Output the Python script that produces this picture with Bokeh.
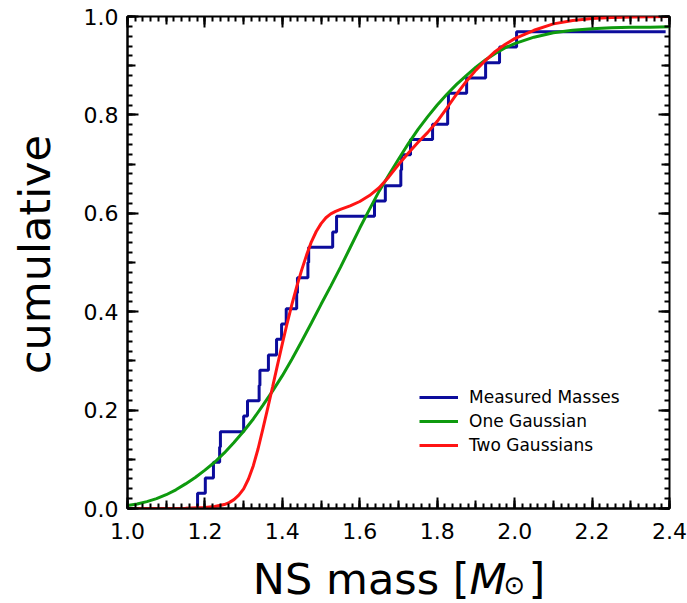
import math
import numpy as np
from bokeh.plotting import figure
from bokeh.layouts import row, column
from bokeh.models import (Range1d, LinearAxis, FixedTicker, Legend, LegendItem,
                          PrintfTickFormatter)
from bokeh.core.properties import value
from bokeh.embed import file_html
from bokeh.resources import INLINE

# ---- data ----
# measured NS masses (step positions of the empirical cumulative curve)
masses = [1.181, 1.201, 1.222, 1.238, 1.240, 1.300, 1.310, 1.340, 1.342, 1.364,
          1.385, 1.398, 1.410, 1.437, 1.439, 1.466, 1.468, 1.530, 1.540, 1.638,
          1.666, 1.706, 1.708, 1.731, 1.788, 1.827, 1.829, 1.876, 1.925, 1.961, 2.005]
cumulative = [0.031, 0.062, 0.094, 0.125, 0.156, 0.188, 0.219, 0.250, 0.281, 0.312,
              0.344, 0.375, 0.406, 0.438, 0.469, 0.500, 0.531, 0.562, 0.594, 0.625,
              0.656, 0.688, 0.719, 0.750, 0.781, 0.812, 0.844, 0.875, 0.906, 0.938, 0.969]
step_start = 1.0
step_end = 2.39

one_gauss_x = [1.00, 1.025, 1.05, 1.075, 1.10, 1.125, 1.15, 1.175, 1.20, 1.225, 1.25, 1.275,
               1.30, 1.325, 1.35, 1.375, 1.40, 1.425, 1.45, 1.475, 1.50, 1.525, 1.55, 1.575,
               1.60, 1.625, 1.65, 1.675, 1.70, 1.725, 1.75, 1.775, 1.80, 1.825, 1.85, 1.875,
               1.90, 1.925, 1.95, 1.975, 2.00, 2.05, 2.10, 2.15, 2.20, 2.25, 2.30, 2.35, 2.40]
one_gauss_y = [0.006, 0.009, 0.014, 0.020, 0.028, 0.038, 0.050, 0.063, 0.078, 0.094, 0.113, 0.134,
               0.157, 0.182, 0.210, 0.239, 0.270, 0.304, 0.340, 0.377, 0.415, 0.452, 0.490, 0.530,
               0.570, 0.608, 0.645, 0.678, 0.710, 0.741, 0.770, 0.796, 0.820, 0.842, 0.862, 0.880,
               0.897, 0.912, 0.925, 0.936, 0.945, 0.958, 0.967, 0.972, 0.975, 0.977, 0.978, 0.978, 0.979]

two_gauss_x = [1.00, 1.15, 1.20, 1.225, 1.25, 1.2625, 1.275, 1.2875, 1.30, 1.3125, 1.325, 1.3375,
               1.35, 1.3625, 1.375, 1.3875, 1.40, 1.4125, 1.425, 1.4375, 1.45, 1.4625, 1.475, 1.4875,
               1.50, 1.5125, 1.525, 1.5375, 1.55, 1.575, 1.60, 1.625, 1.65, 1.675, 1.70, 1.725,
               1.75, 1.775, 1.80, 1.825, 1.85, 1.875, 1.90, 1.925, 1.95, 1.975, 2.00, 2.05,
               2.10, 2.15, 2.20, 2.25, 2.30, 2.40]
two_gauss_y = [0.000, 0.0005, 0.002, 0.004, 0.008, 0.012, 0.018, 0.027, 0.040, 0.060, 0.087, 0.122,
               0.163, 0.205, 0.248, 0.292, 0.335, 0.377, 0.416, 0.452, 0.485, 0.515, 0.542, 0.563,
               0.579, 0.591, 0.599, 0.604, 0.608, 0.615, 0.624, 0.636, 0.652, 0.674, 0.699, 0.722,
               0.744, 0.764, 0.787, 0.814, 0.842, 0.868, 0.891, 0.911, 0.929, 0.943, 0.955, 0.972,
               0.985, 0.992, 0.996, 0.998, 0.999, 1.000]

x_major_ticks = [1.0, 1.2, 1.4, 1.6, 1.8, 2.0, 2.2, 2.4]
y_major_ticks = [0.0, 0.2, 0.4, 0.6, 0.8, 1.0]
x_medium_ticks = [round(v, 2) for v in np.arange(1.0, 2.401, 0.1)]
y_medium_ticks = [round(v, 2) for v in np.arange(0.0, 1.001, 0.1)]
x_minor_ticks = [round(v, 2) for v in np.arange(1.0, 2.401, 0.02)]
y_minor_ticks = [round(v, 2) for v in np.arange(0.0, 1.001, 0.02)]

labels = ["Measured Masses", "One Gaussian", "Two Gaussians"]
colors = ["#0c0c9c", "#0e9a0e", "#ff1414"]

FONT = "DejaVu Sans"

# ---------------- main plot ----------------
p = figure(width=607, height=553, output_backend="svg", toolbar_location=None,
           x_range=Range1d(1.0, 2.4), y_range=Range1d(0.0, 1.0),
           x_axis_location=None, y_axis_location=None,
           min_border_left=46, min_border_right=18, min_border_top=16, min_border_bottom=45)
p.xgrid.visible = False
p.ygrid.visible = False
p.outline_line_color = "black"
p.outline_line_width = 2
p.background_fill_color = "white"
p.border_fill_color = "white"


def tick_only_axis(ticks, length):
    # an axis that only draws inward ticks (no labels, no line, no size)
    return LinearAxis(ticker=FixedTicker(ticks=[], minor_ticks=ticks),
                      axis_line_color=None, major_tick_line_color=None,
                      minor_tick_in=length, minor_tick_out=0, minor_tick_line_width=2,
                      minor_tick_line_color="black",
                      major_label_standoff=0, axis_label_standoff=0)


def add_side(side, labeled):
    horiz = side in ("below", "above")
    major = x_major_ticks if horiz else y_major_ticks
    medium = x_medium_ticks if horiz else y_medium_ticks
    minor = x_minor_ticks if horiz else y_minor_ticks
    if labeled:
        p.add_layout(tick_only_axis(medium, 8), side)
        main = LinearAxis(ticker=FixedTicker(ticks=major, minor_ticks=minor),
                          axis_line_color="black", axis_line_width=2,
                          major_tick_in=11, major_tick_out=0, major_tick_line_width=2,
                          minor_tick_in=5, minor_tick_out=0, minor_tick_line_width=2,
                          formatter=PrintfTickFormatter(format="%.1f"),
                          major_label_text_font=FONT, major_label_text_font_size="22px",
                          major_label_text_color="black",
                          major_label_standoff=14 if side == "below" else 9,
                          axis_label_standoff=0)
        p.add_layout(main, side)
    else:
        p.add_layout(tick_only_axis(minor, 5), side)
        p.add_layout(tick_only_axis(medium, 8), side)
        p.add_layout(tick_only_axis(major, 11), side)


add_side("below", True)
add_side("left", True)
add_side("above", False)
add_side("right", False)

r_blue = p.step([step_start] + masses + [step_end], [0.0] + cumulative + [cumulative[-1]],
                mode="after", line_color=colors[0], line_width=3)
r_green = p.line(one_gauss_x, one_gauss_y, line_color=colors[1], line_width=3)
r_red = p.line(two_gauss_x, two_gauss_y, line_color=colors[2], line_width=3)

legend = Legend(items=[LegendItem(label=labels[0], renderers=[r_blue]),
                       LegendItem(label=labels[1], renderers=[r_green]),
                       LegendItem(label=labels[2], renderers=[r_red])],
                location=(292, 51), orientation="vertical",
                border_line_color=None, background_fill_alpha=0,
                label_text_font=FONT, label_text_font_size="17px", label_text_color="black",
                glyph_width=39, glyph_height=24, label_height=24, label_standoff=11,
                spacing=0, padding=0, margin=0)
p.add_layout(legend)


def text_panel(width, height, x0, y0, **kw):
    f = figure(width=width, height=height, output_backend="svg", toolbar_location=None,
               x_range=Range1d(x0, x0 + width), y_range=Range1d(y0 + height, y0),
               x_axis_location=None, y_axis_location=None, min_border=0, **kw)
    f.xgrid.visible = False
    f.ygrid.visible = False
    f.outline_line_color = None
    f.background_fill_alpha = 0
    f.border_fill_alpha = 0
    return f


# ---------------- y-axis title panel ----------------
ylab = text_panel(80, 603, 0, 0)
ylab.text(x=[34], y=[254], text=["cumulative"], angle=math.pi / 2,
          text_align="center", text_baseline="alphabetic",
          text_font=value(FONT), text_font_size="43px", text_color="black")

# ---------------- x-axis title panel ----------------
xlab = text_panel(607, 50, 80, 553)
xlab.text(x=[463], y=[578], text=["NS mass ["], text_align="right", text_baseline="alphabetic",
          text_font=value(FONT), text_font_size="43px", text_color="black")
xlab.text(x=[463], y=[578], text=["M"], text_align="left", text_baseline="alphabetic",
          text_font=value(FONT), text_font_size="43px", text_font_style="italic", text_color="black")
xlab.text(x=[501], y=[584], text=["\u2299"], text_align="left", text_baseline="alphabetic",
          text_font=value(FONT), text_font_size="26px", text_color="black")
xlab.text(x=[529], y=[578], text=["]"], text_align="left", text_baseline="alphabetic",
          text_font=value(FONT), text_font_size="43px", text_color="black")

layout = row(ylab, column(p, xlab, spacing=0), spacing=0)

open("out.html", "w").write(file_html(layout, INLINE))
